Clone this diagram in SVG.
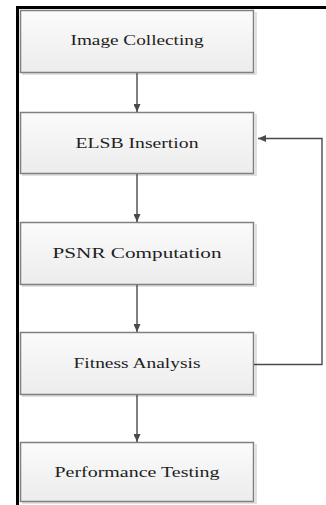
<svg xmlns="http://www.w3.org/2000/svg" width="326" height="505" viewBox="0 0 326 505">
<defs>
<linearGradient id="g" x1="0" y1="0" x2="0" y2="1">
<stop offset="0" stop-color="#fbfbfb"/>
<stop offset="1" stop-color="#ececec"/>
</linearGradient>
<marker id="ah" markerWidth="8" markerHeight="7" refX="8" refY="3.5" orient="auto" markerUnits="userSpaceOnUse">
<path d="M0,0 L8,3.5 L0,7 Z" fill="#4a4a4a"/>
</marker>
<style>
.box{fill:url(#g);stroke:#808080;stroke-width:1.5}
.sh{fill:none;stroke:#d8d8d8;stroke-width:1.5}
.lbl{font-size:15px;fill:#1e1e1e;text-anchor:middle}
.con{fill:none;stroke:#4a4a4a;stroke-width:1.4;marker-end:url(#ah)}
.frame{fill:none;stroke:#000;stroke-width:3}
</style>
</defs>
<rect width="326" height="505" fill="#fff"/>
<path class="frame" d="M17.5,505 V7.5 H326"/>
<g font-family="'Liberation Serif', 'Times New Roman', serif">
<g id="n1"><path class="sh" d="M256,12 V74 H22"/><rect class="box" x="20.5" y="10.5" width="233" height="62"/><text class="lbl" x="137" y="45" textLength="133" lengthAdjust="spacingAndGlyphs">Image Collecting</text></g>
<g id="n2"><path class="sh" d="M256,114 V175 H22"/><rect class="box" x="20.5" y="112.5" width="233" height="61"/><text class="lbl" x="137" y="148" textLength="123" lengthAdjust="spacingAndGlyphs">ELSB Insertion</text></g>
<g id="n3"><path class="sh" d="M256,224 V286 H22"/><rect class="box" x="20.5" y="222.5" width="233" height="62"/><text class="lbl" x="137" y="258" textLength="169" lengthAdjust="spacingAndGlyphs">PSNR Computation</text></g>
<g id="n4"><path class="sh" d="M256,334 V396 H22"/><rect class="box" x="20.5" y="332.5" width="233" height="62"/><text class="lbl" x="137" y="368" textLength="127" lengthAdjust="spacingAndGlyphs">Fitness Analysis</text></g>
<g id="n5"><path class="sh" d="M256,444 V503 H22"/><rect class="box" x="20.5" y="442.5" width="233" height="59"/><text class="lbl" x="137" y="477" textLength="165" lengthAdjust="spacingAndGlyphs">Performance Testing</text></g>
</g>
<g id="connectors">
<path class="con" d="M137,73 V112"/>
<path class="con" d="M137,174 V222"/>
<path class="con" d="M137,285 V332"/>
<path class="con" d="M137,395 V442"/>
<path class="con" d="M254,364.5 H322 V138.5 H258"/>
</g>
</svg>
